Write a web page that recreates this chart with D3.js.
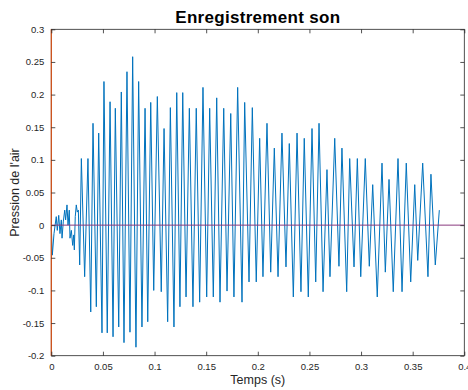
<!DOCTYPE html>
<html>
<head>
<meta charset="utf-8">
<script src="https://cdn.jsdelivr.net/npm/d3@7"></script>
<style>
  html, body { margin: 0; padding: 0; background: #fff; }
  svg { display: block; font-family: "Liberation Sans", Arial, Helvetica, sans-serif; }
</style>
</head>
<body>
<svg id="chart" width="468" height="390"></svg>
<script>
// ---- data (time in s, pressure) ----
const times = [
  0.0000, 0.0010, 0.0026, 0.0048, 0.0058, 0.0072, 0.0084, 0.0097, 0.0104, 0.0116,
  0.0130, 0.0139, 0.0152, 0.0162, 0.0174, 0.0181, 0.0194, 0.0207, 0.0217, 0.0223,
  0.0232, 0.0242, 0.0252, 0.0262, 0.0275, 0.0291, 0.0323, 0.0355, 0.0382, 0.0404,
  0.0436, 0.0459, 0.0491, 0.0510, 0.0542, 0.0569, 0.0598, 0.0620, 0.0653, 0.0678,
  0.0704, 0.0733, 0.0762, 0.0788, 0.0820, 0.0846, 0.0878, 0.0908, 0.0934, 0.0963,
  0.0992, 0.1027, 0.1065, 0.1092, 0.1127, 0.1153, 0.1188, 0.1215, 0.1246, 0.1273,
  0.1305, 0.1337, 0.1372, 0.1404, 0.1437, 0.1469, 0.1505, 0.1534, 0.1569, 0.1602,
  0.1634, 0.1670, 0.1702, 0.1738, 0.1769, 0.1805, 0.1847, 0.1873, 0.1915, 0.1947,
  0.1985, 0.2018, 0.2050, 0.2089, 0.2125, 0.2160, 0.2196, 0.2234, 0.2273, 0.2305,
  0.2344, 0.2380, 0.2418, 0.2450, 0.2489, 0.2525, 0.2561, 0.2593, 0.2632, 0.2670,
  0.2699, 0.2745, 0.2786, 0.2815, 0.2861, 0.2890, 0.2932, 0.2964, 0.2997, 0.3041,
  0.3080, 0.3113, 0.3157, 0.3203, 0.3235, 0.3271, 0.3312, 0.3358, 0.3397, 0.3438,
  0.3481, 0.3520, 0.3549, 0.3597, 0.3648, 0.3677, 0.3719, 0.3758
];
const pressure = [
  -0.003, -0.046, -0.013, 0.013, -0.008, 0.015, -0.013, 0.008, -0.020, 0.005,
  0.023, 0.008, 0.031, 0.000, 0.023, -0.020, -0.008, -0.031, -0.015, -0.038,
  0.013, 0.031, 0.020, 0.023, -0.061, 0.102, -0.079, 0.102, -0.133, 0.156,
  -0.125, 0.141, -0.165, 0.220, -0.165, 0.189, -0.171, 0.179, -0.156, 0.204,
  -0.180, 0.235, -0.164, 0.258, -0.187, 0.220, -0.156, 0.179, -0.148, 0.188,
  -0.100, 0.197, -0.102, 0.148, -0.148, 0.180, -0.156, 0.203, -0.125, 0.203,
  -0.110, 0.179, -0.125, 0.179, -0.118, 0.211, -0.110, 0.179, -0.110, 0.195,
  -0.118, 0.179, -0.101, 0.171, -0.110, 0.211, -0.118, 0.188, -0.087, 0.180,
  -0.087, 0.133, -0.079, 0.156, -0.072, 0.118, -0.079, 0.141, -0.064, 0.125,
  -0.110, 0.141, -0.102, 0.133, -0.110, 0.148, -0.087, 0.156, -0.102, 0.085,
  -0.079, 0.133, -0.063, 0.118, -0.102, 0.102, -0.064, 0.102, -0.079, 0.102,
  -0.063, 0.062, -0.110, 0.095, -0.072, 0.070, -0.102, 0.102, -0.102, 0.095,
  -0.087, 0.062, -0.054, 0.095, -0.079, 0.078, -0.061, 0.023
];
const xTicks = [0, 0.05, 0.1, 0.15, 0.2, 0.25, 0.3, 0.35, 0.4];
const yTicks = [-0.2, -0.15, -0.1, -0.05, 0, 0.05, 0.1, 0.15, 0.2, 0.25, 0.3];
const xDomain = [0, 0.4];
const yDomain = [-0.2, 0.3];
const zeroLine = [[0, 0], [0.4, 0]];
const originLine = [[0, -0.2], [0, 0.3]];
const titleText = "Enregistrement son";
const xLabel = "Temps (s)";
const yLabel = "Pression de l'air";

// ---- drawing ----
const svg = d3.select("#chart");
const L = 51.3, R = 464.3, T = 29.3, B = 355.7;
const x = d3.scaleLinear().domain(xDomain).range([L, R]);
const y = d3.scaleLinear().domain(yDomain).range([B, T]);
const axisColor = "#262626";
const fmt = d => String(+d.toFixed(2));

// box lines
svg.append("rect").attr("x", L).attr("y", T).attr("width", R - L).attr("height", B - T)
  .attr("fill", "none").attr("stroke", axisColor).attr("stroke-width", 0.8);

const data = times.map((t, i) => [t, pressure[i]]);
const line = d3.line().x(d => x(d[0])).y(d => y(d[1]));

svg.append("path").datum(data).attr("d", line)
  .attr("fill", "none").attr("stroke", "#0072BD").attr("stroke-width", 1)
  .attr("stroke-linejoin", "miter");

svg.append("path").datum(zeroLine).attr("d", line)
  .attr("fill", "none").attr("stroke", "#8A3A7E").attr("stroke-width", 1);
svg.append("path").datum(originLine).attr("d", line)
  .attr("fill", "none").attr("stroke", "#D95319").attr("stroke-width", 1.2);

function styleAxis(g, labels) {
  g.select(".domain").remove();
  g.selectAll(".tick line").attr("stroke", axisColor).attr("stroke-width", 0.8);
  g.selectAll(".tick text").attr("fill", labels ? axisColor : "none")
    .attr("font-size", "9.5px").attr("font-family", "Liberation Sans, Arial, sans-serif");
}

const xb = svg.append("g").attr("transform", `translate(0,${B})`)
  .call(d3.axisBottom(x).tickValues(xTicks).tickFormat(fmt).tickSizeInner(-4).tickSizeOuter(0).tickPadding(8));
styleAxis(xb, true);
const xt = svg.append("g").attr("transform", `translate(0,${T})`)
  .call(d3.axisTop(x).tickValues(xTicks).tickFormat("").tickSizeInner(-4).tickSizeOuter(0));
styleAxis(xt, false);
const yl = svg.append("g").attr("transform", `translate(${L},0)`)
  .call(d3.axisLeft(y).tickValues(yTicks).tickFormat(fmt).tickSizeInner(-4).tickSizeOuter(0).tickPadding(7));
styleAxis(yl, true);
const yr = svg.append("g").attr("transform", `translate(${R},0)`)
  .call(d3.axisRight(y).tickValues(yTicks).tickFormat("").tickSizeInner(-4).tickSizeOuter(0));
styleAxis(yr, false);

svg.append("text").attr("x", (L + R) / 2).attr("y", 23).attr("text-anchor", "middle")
  .attr("font-size", "17px").attr("font-weight", "bold").attr("letter-spacing", "0.3px")
  .attr("fill", "#000").text(titleText);
svg.append("text").attr("x", (L + R) / 2).attr("y", 384).attr("text-anchor", "middle")
  .attr("font-size", "12.5px").attr("fill", axisColor).text(xLabel);
svg.append("text").attr("transform", `translate(19,${(T + B) / 2}) rotate(-90)`)
  .attr("text-anchor", "middle").attr("font-size", "12.5px").attr("fill", axisColor).text(yLabel);
</script>
</body>
</html>
